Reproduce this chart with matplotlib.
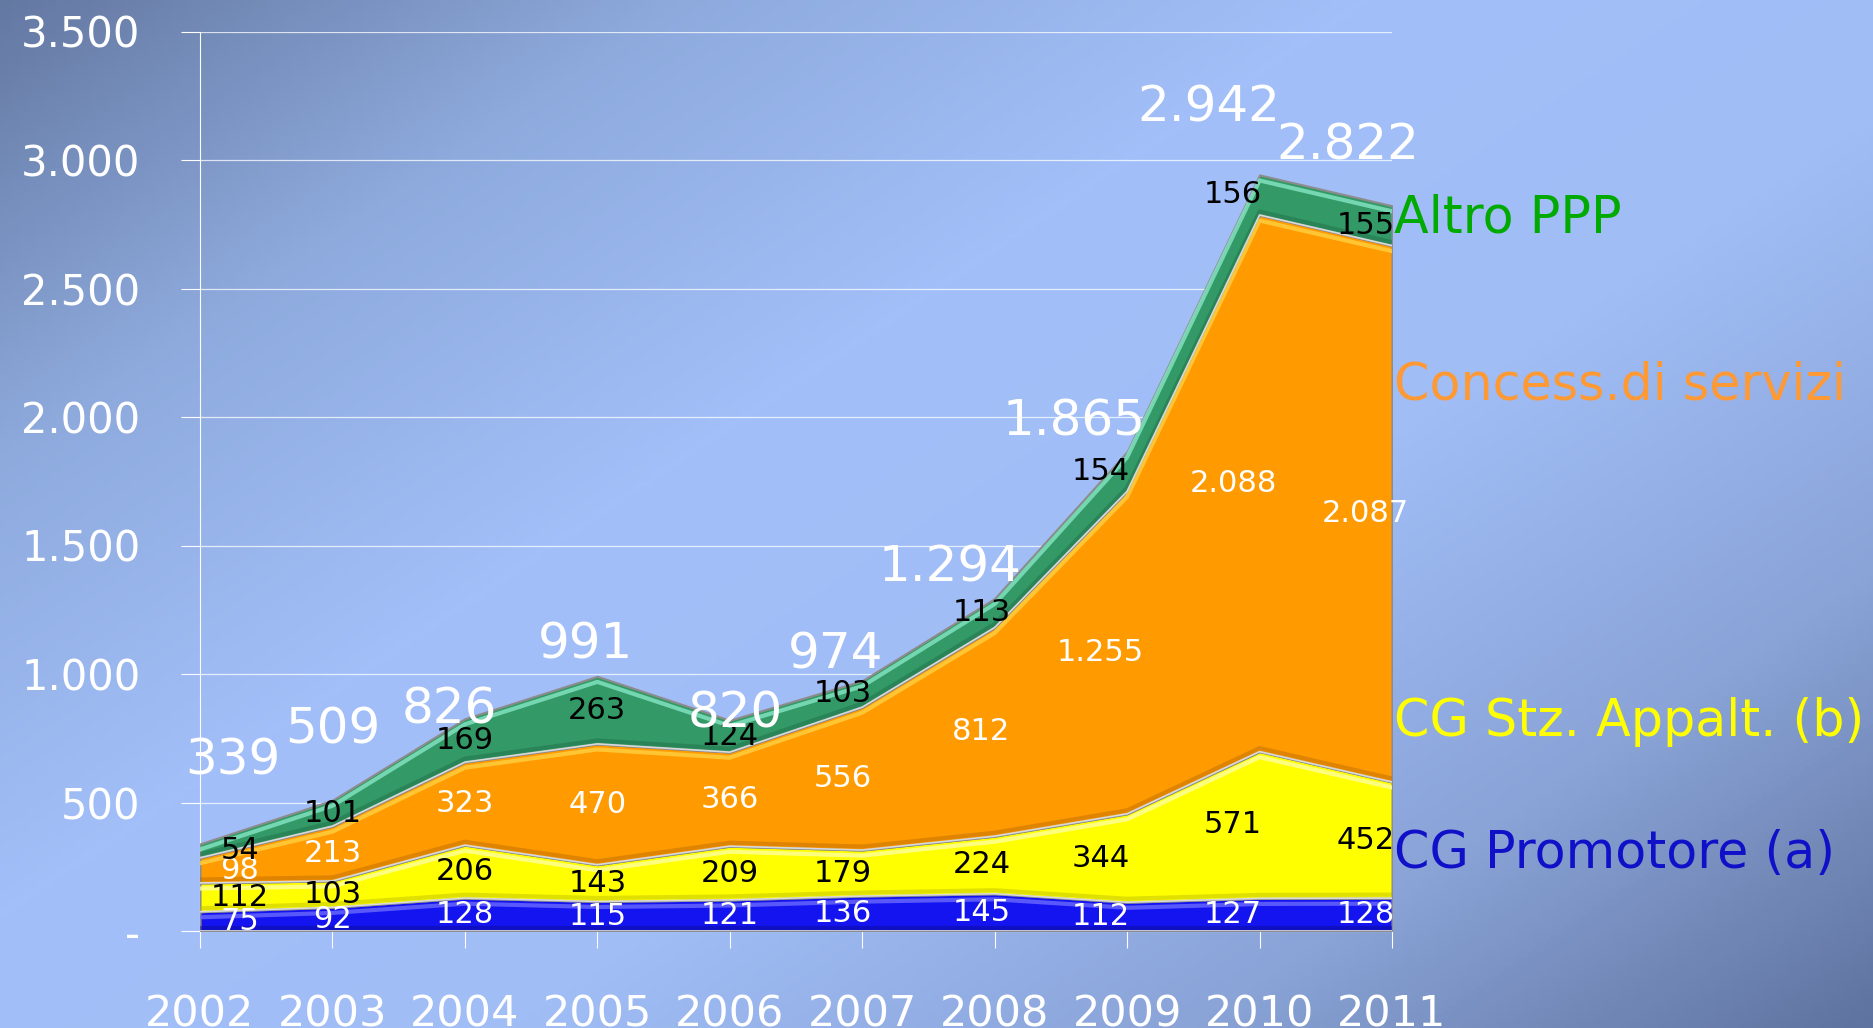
import numpy as np
import matplotlib
matplotlib.use("Agg")
import matplotlib.pyplot as plt
from matplotlib.colors import LinearSegmentedColormap
from matplotlib.transforms import offset_copy

years = [2002, 2003, 2004, 2005, 2006, 2007, 2008, 2009, 2010, 2011]
promotore = [75, 92, 128, 115, 121, 136, 145, 112, 127, 128]
stz_appalt = [112, 103, 206, 143, 209, 179, 224, 344, 571, 452]
concess = [98, 213, 323, 470, 366, 556, 812, 1255, 2088, 2087]
altro = [54, 101, 169, 263, 124, 103, 113, 154, 156, 155]
series_names = ["CG Promotore (a)", "CG Stz. Appalt. (b)", "Concess.di servizi", "Altro PPP"]
y_ticks = [0, 500, 1000, 1500, 2000, 2500, 3000, 3500]
y_ticklabels = ["-", "500", "1.000", "1.500", "2.000", "2.500", "3.000", "3.500"]

# layout only: label nudges (years / data units)
LBL_DX = [0.3, 0.0, 0.0, 0.0, 0.0, -0.15, -0.1, -0.2, -0.2, -0.2]
TOT_DX = [0.25, 0.0, -0.12, -0.09, 0.04, -0.2, -0.34, -0.4, -0.38, -0.33]
TOT_DY = [325, 276, 37, 123, 25, 103, 122, 117, 261, 233]

FILL = ["#1414f0", "#ffff00", "#ff9a00", "#339966"]
SHINE = ["#6a6aff", "#ffffa0", "#ffd040", "#86e6c6"]
SHADE = ["#0a0a90", "#b8b800", "#b86a00", "#1f6b47"]
LBL_COL = ["white", "black", "white", "black"]
NAME_COL = ["#1010c8", "#ffff00", "#ff9933", "#00aa00"]
NAME_Y = [0.086, 0.232, 0.607, 0.792]   # axes fraction, right-hand series names

W, H = 1874, 1028
fig = plt.figure(figsize=(W / 100, H / 100), dpi=100)

# background gradient: dark top-left, light centre, darker bottom-right
bg = fig.add_axes([0, 0, 1, 1], zorder=-10)
gx, gy = np.meshgrid(np.linspace(0, 1, 400), np.linspace(0, 1, 220))
t = (gx * 0.55 + gy * 0.45)
cmap = LinearSegmentedColormap.from_list(
    "bg", ["#6479a2", "#8eaadd", "#a2bff9", "#a0bdf6", "#8aa4d8", "#5f739f"])
bg.imshow(t, cmap=cmap, aspect="auto", extent=[0, 1, 0, 1], origin="upper")
bg.axis("off")

ax = fig.add_axes([200 / W, 1 - 931 / H, (1392 - 200) / W, (931 - 31.5) / H])
ax.patch.set_alpha(0)
ax.set_xlim(years[0], years[-1])
ax.set_ylim(0, 3500)

layers = [promotore, stz_appalt, concess, altro]
x = np.array(years, dtype=float)
base = np.zeros(len(years))
mids = []
for i, vals in enumerate(layers):
    top = base + np.array(vals)
    ax.fill_between(x, base, top, color=FILL[i], edgecolor="#8c8c8c", lw=1.5, zorder=3)
    # bevel: light stripe under the top edge, dark shade over the bottom edge
    ax.plot(x, top, color=SHINE[i], lw=3, alpha=0.8, zorder=4,
            transform=offset_copy(ax.transData, fig=fig, y=-4, units="points"))
    ax.plot(x, base, color=SHADE[i], lw=3, alpha=0.45, zorder=4,
            transform=offset_copy(ax.transData, fig=fig, y=2.5, units="points"))
    ax.plot(x, base, color="#d9d9d9", lw=1.2, zorder=4)
    mids.append((base + top) / 2)
    base = top
totals = base

for i, vals in enumerate(layers):
    for j, v in enumerate(vals):
        ax.text(x[j] + LBL_DX[j], mids[i][j], f"{v:,}".replace(",", "."),
                color=LBL_COL[i], fontsize=22, ha="center", va="center", zorder=6)

for j, tv in enumerate(totals):
    ax.text(x[j] + TOT_DX[j], tv + TOT_DY[j], f"{int(tv):,}".replace(",", "."),
            color="white", fontsize=36, ha="center", va="center", zorder=6)

for i, name in enumerate(series_names):
    ax.text(1.002, NAME_Y[i], name, transform=ax.transAxes, color=NAME_COL[i],
            fontsize=36.5, ha="left", va="center", zorder=6, clip_on=False)

ax.set_yticks(y_ticks)
ax.set_yticklabels(y_ticklabels)
ax.set_xticks(years)
ax.set_xticklabels([str(y) for y in years])
ax.grid(axis="y", color="white", lw=0.9, alpha=0.75, zorder=0)
ax.set_axisbelow(True)
for s in ["top", "right"]:
    ax.spines[s].set_visible(False)
ax.spines["left"].set_color("white")
ax.spines["bottom"].set_color("white")
ax.tick_params(axis="y", colors="white", labelsize=30, length=14, width=0.8, pad=29)
ax.tick_params(axis="x", colors="white", labelsize=31, length=12, width=0.8,
               direction="out", pad=33)

fig.savefig("out.png", dpi=100)
